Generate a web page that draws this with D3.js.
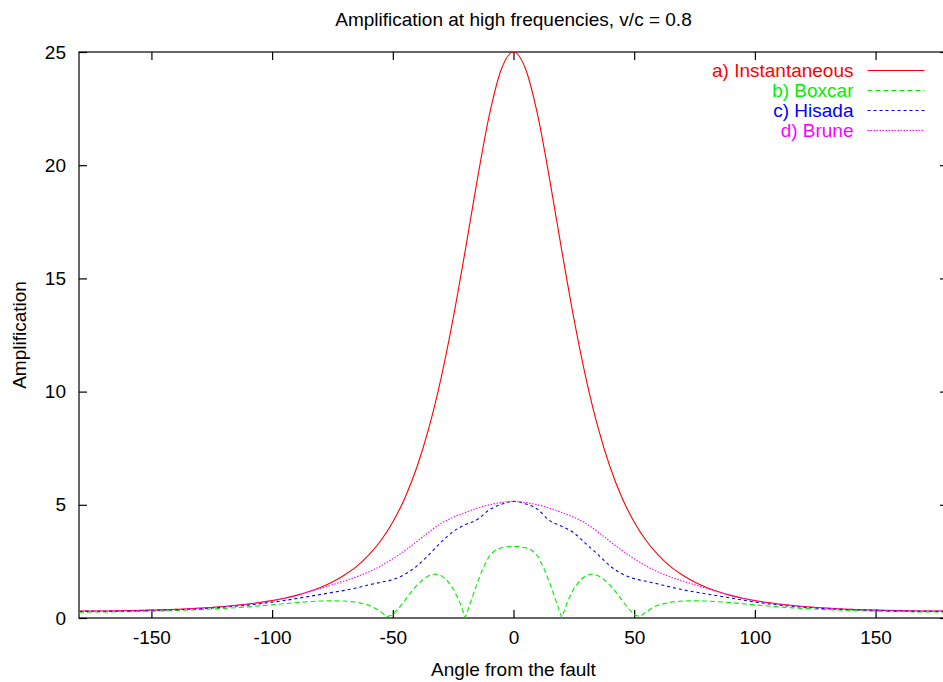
<!DOCTYPE html>
<meta charset="utf-8">
<head>
    <script src="https://d3js.org/d3.v7.min.js"></script>
    <style>
        body { margin: 0; background: #fff; }
        text { font-family: "Liberation Sans", Arial, sans-serif; }
    </style>
</head>
<body>
<div id="my_dataviz"></div>
</body>

<script>

    // angles (degrees) shared by curves a), c), d)
    var angles = [-180, -170, -160, -150, -140, -130, -120, -110, -100,
        -95, -90, -85, -80, -75, -70, -65, -60, -55, -50, -45, -40, -35, -30, -25, -20, -15, -10, -5,
        0, 5, 10, 15, 20, 25, 30, 35, 40, 45, 50, 55, 60, 65, 70, 75, 80, 85, 90, 95,
        100, 110, 120, 130, 140, 150, 160, 170, 180];

    var instantaneous = [0.31, 0.31, 0.33, 0.35, 0.38, 0.44, 0.51, 0.62, 0.77,
        0.87, 1.00, 1.16, 1.35, 1.59, 1.90, 2.28, 2.78, 3.41, 4.24, 5.30, 6.67, 8.42, 10.60, 13.23, 16.23, 19.36, 22.22, 24.25,
        25.0, 24.25, 22.22, 19.36, 16.23, 13.23, 10.60, 8.42, 6.67, 5.30, 4.24, 3.41, 2.78, 2.28, 1.90, 1.59, 1.35, 1.16, 1.00, 0.87,
        0.77, 0.62, 0.51, 0.44, 0.38, 0.35, 0.33, 0.31, 0.31];

    var hisada = [0.29, 0.30, 0.31, 0.34, 0.37, 0.41, 0.48, 0.57, 0.70,
        0.77, 0.86, 0.95, 1.04, 1.13, 1.22, 1.33, 1.46, 1.58, 1.70, 1.93, 2.30, 2.80, 3.35, 3.82, 4.12, 4.35, 4.78, 5.02,
        5.15, 5.04, 4.80, 4.30, 4.05, 3.76, 3.28, 2.80, 2.30, 1.95, 1.74, 1.62, 1.50, 1.37, 1.25, 1.15, 1.06, 0.97, 0.88, 0.79,
        0.71, 0.57, 0.48, 0.41, 0.37, 0.34, 0.31, 0.30, 0.29];

    var brune = [0.30, 0.31, 0.32, 0.35, 0.38, 0.43, 0.50, 0.61, 0.75,
        0.86, 0.99, 1.15, 1.31, 1.47, 1.64, 1.82, 2.03, 2.30, 2.62, 2.98, 3.38, 3.80, 4.18, 4.45, 4.66, 4.85, 5.00, 5.10,
        5.15, 5.10, 5.00, 4.85, 4.66, 4.45, 4.18, 3.80, 3.38, 2.98, 2.62, 2.30, 2.03, 1.82, 1.64, 1.47, 1.31, 1.15, 0.99, 0.86,
        0.75, 0.61, 0.50, 0.43, 0.38, 0.35, 0.32, 0.31, 0.30];

    // boxcar curve b) is read on a finer grid near its zeros
    var boxcarAngles = [-180, -170, -160, -150, -140, -130, -120, -110, -100,
        -95, -90, -85, -80, -75, -70, -65,
        -60, -57.5, -55, -52.5, -50, -47.5, -45, -42.5, -40, -37.5, -35, -32.5, -30, -27.5, -25, -22.5,
        -20, -17.5, -15, -12.5, -10, -7.5, -5, -2.5, 0, 2.5, 5, 7.5, 10, 12.5, 15, 17.5,
        20, 22.5, 25, 27.5, 30, 32.5, 35, 37.5, 40, 42.5, 45, 47.5, 50, 52.5, 55, 57.5, 60,
        65, 70, 75, 80, 85, 90, 95,
        100, 110, 120, 130, 140, 150, 160, 170, 180];

    var boxcar = [0.26, 0.265, 0.28, 0.30, 0.33, 0.37, 0.42, 0.49, 0.58,
        0.63, 0.68, 0.72, 0.75, 0.76, 0.75, 0.70,
        0.57, 0.44, 0.28, 0.06, 0.14, 0.44, 0.78, 1.13, 1.45, 1.70, 1.88, 1.94, 1.88, 1.66, 1.30, 0.75,
        0.02, 0.78, 1.55, 2.22, 2.75, 3.00, 3.10, 3.15, 3.16, 3.15, 3.10, 3.00, 2.75, 2.22, 1.55, 0.78,
        0.02, 0.75, 1.30, 1.66, 1.88, 1.94, 1.88, 1.70, 1.45, 1.13, 0.78, 0.44, 0.14, 0.06, 0.28, 0.44, 0.57,
        0.70, 0.75, 0.76, 0.75, 0.72, 0.68, 0.63,
        0.58, 0.49, 0.42, 0.37, 0.33, 0.30, 0.28, 0.265, 0.26];

    var xTicks = [-150, -100, -50, 0, 50, 100, 150];
    var yTicks = [0, 5, 10, 15, 20, 25];

    var series = [
        {label: "a) Instantaneous", color: "#ff0000", dash: null, x: angles, y: instantaneous, curve: d3.curveMonotoneX},
        {label: "b) Boxcar", color: "#00ee00", dash: "5,3", x: boxcarAngles, y: boxcar, curve: d3.curveLinear},
        {label: "c) Hisada", color: "#0000ff", dash: "3,3", x: angles, y: hisada, curve: d3.curveMonotoneX},
        {label: "d) Brune", color: "#ff00ff", dash: "1.5,1.5", x: angles, y: brune, curve: d3.curveMonotoneX}
    ];

    // set the dimensions and margins of the graph
    var margin = {top: 52, right: -5, bottom: 64, left: 79},
        width = 943 - margin.left - margin.right,
        height = 682 - margin.top - margin.bottom;

    var svg = d3.select("#my_dataviz")
        .append("svg")
        .attr("width", 943)
        .attr("height", 682)
        .style("display", "block")
        .append("g")
        .attr("transform", "translate(" + margin.left + "," + margin.top + ")");

    var x = d3.scaleLinear().domain([-180, 180]).range([0, width]);
    var y = d3.scaleLinear().domain([0, 25]).range([height, 0]);

    var fontSize = 19;
    // plain hyphen for negatives, like the original
    var plain = function(d) { return String(d); };

    // axes with inward ticks, mirrored on top and right
    var bottomAxis = svg.append("g")
        .attr("transform", "translate(0," + height + ")")
        .call(d3.axisBottom(x).tickValues(xTicks).tickFormat(plain).tickSize(-8).tickSizeOuter(0).tickPadding(13));
    var leftAxis = svg.append("g")
        .call(d3.axisLeft(y).tickValues(yTicks).tickFormat(plain).tickSize(-8).tickSizeOuter(0).tickPadding(13));
    var topAxis = svg.append("g")
        .call(d3.axisTop(x).tickValues(xTicks).tickSize(-8).tickSizeOuter(0).tickFormat(""));
    var rightAxis = svg.append("g")
        .attr("transform", "translate(" + width + ",0)")
        .call(d3.axisRight(y).tickValues(yTicks).tickSize(-8).tickSizeOuter(0).tickFormat(""));

    [bottomAxis, leftAxis, topAxis, rightAxis].forEach(function(a) {
        a.select(".domain").remove();
        a.selectAll("line").attr("stroke", "#000").attr("stroke-width", 1.2);
        a.selectAll("text").attr("fill", "#000")
            .style("font-size", fontSize + "px")
            .style("font-family", "'Liberation Sans', Arial, sans-serif");
    });

    // border
    svg.append("rect")
        .attr("width", width)
        .attr("height", height)
        .attr("fill", "none")
        .attr("stroke", "#000")
        .attr("stroke-width", 1.2);

    svg.append("clipPath").attr("id", "clip")
        .append("rect").attr("width", width).attr("height", height);

    // the curves
    svg.append("g")
        .attr("clip-path", "url(#clip)")
        .selectAll("path")
        .data(series)
        .enter().append("path")
        .attr("fill", "none")
        .attr("stroke", function(d) { return d.color; })
        .attr("stroke-width", 1.1)
        .attr("stroke-dasharray", function(d) { return d.dash; })
        .attr("d", function(d) {
            return d3.line()
                .curve(d.curve)
                .x(function(v, i) { return x(d.x[i]); })
                .y(function(v) { return y(v); })(d.y);
        });

    // legend, top right
    var legend = svg.append("g")
        .attr("transform", "translate(" + (x(0) + 340) + ", 18.5)");

    legend.selectAll("text")
        .data(series)
        .enter().append("text")
        .attr("x", 0)
        .attr("y", function(d, i) { return i * 20; })
        .attr("dy", "0.35em")
        .attr("text-anchor", "end")
        .attr("fill", function(d) { return d.color; })
        .style("font-size", fontSize + "px")
        .text(function(d) { return d.label; });

    legend.selectAll("line")
        .data(series)
        .enter().append("line")
        .attr("x1", 14)
        .attr("x2", 71)
        .attr("y1", function(d, i) { return i * 20; })
        .attr("y2", function(d, i) { return i * 20; })
        .attr("stroke", function(d) { return d.color; })
        .attr("stroke-width", 1)
        .attr("stroke-dasharray", function(d) { return d.dash; });

    // title and axis labels
    svg.append("text")
        .attr("x", x(0))
        .attr("y", -26)
        .attr("text-anchor", "middle")
        .style("font-size", fontSize + "px")
        .text("Amplification at high frequencies, v/c = 0.8");

    svg.append("text")
        .attr("x", x(0))
        .attr("y", height + 58)
        .attr("text-anchor", "middle")
        .style("font-size", fontSize + "px")
        .text("Angle from the fault");

    svg.append("text")
        .attr("transform", "translate(" + (-53) + "," + (height / 2) + ") rotate(-90)")
        .attr("text-anchor", "middle")
        .style("font-size", fontSize + "px")
        .text("Amplification");

</script>
